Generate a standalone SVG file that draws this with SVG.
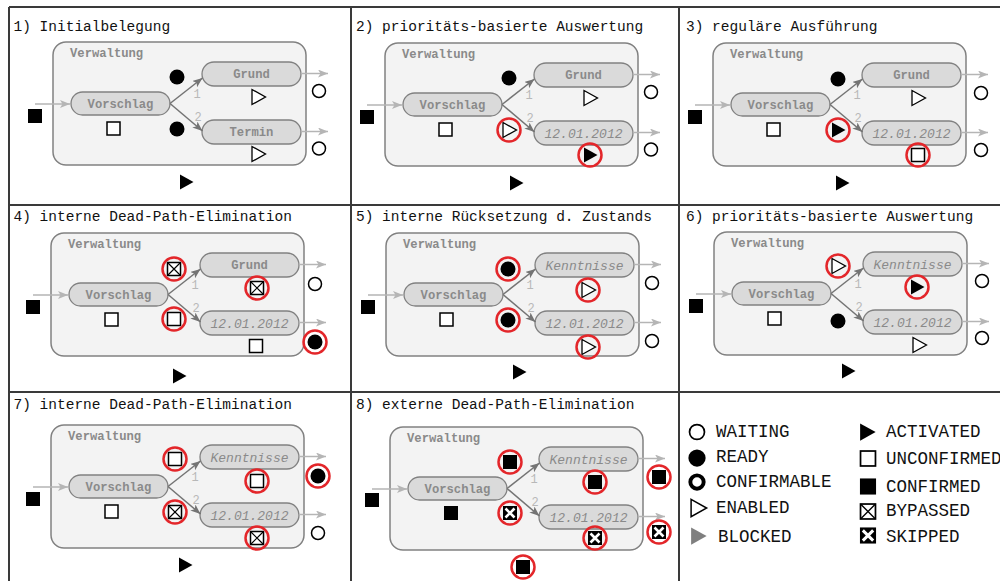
<svg xmlns="http://www.w3.org/2000/svg" width="1000" height="581" viewBox="0 0 1000 581">
  <style>
    .grid { stroke: #3a3a3a; stroke-width: 2; fill: none; }
    .title { font-family: "Liberation Mono", "DejaVu Sans Mono", monospace; font-size: 14.5px; fill: #111; }
    .legend { font-family: "Liberation Mono", "DejaVu Sans Mono", monospace; font-size: 17.5px; fill: #111; }
    .pool { fill: #f3f3f3; stroke: #818181; stroke-width: 1.5; }
    .pool-label { font-family: "Liberation Mono", monospace; font-weight: bold; font-size: 12.2px; fill: #8a8a8a; }
    .task { fill: #dadada; stroke: #818181; stroke-width: 1.3; }
    .task-label { font-family: "Liberation Mono", monospace; font-weight: bold; font-size: 12.2px; fill: #8a8a8a; text-anchor: middle; }
    .task-label-i { font-family: "Liberation Mono", monospace; font-style: italic; font-size: 13px; fill: #8a8a8a; text-anchor: middle; }
    .edge { stroke: #747474; stroke-width: 1.5; fill: none; marker-end: url(#arrow-dark); }
    .flow { stroke: #b5b5b5; stroke-width: 1.5; fill: none; marker-end: url(#arrow-light); }
    .num { font-family: "Liberation Mono", monospace; font-size: 12px; fill: #b8b8b8; text-anchor: middle; }
    .hl { fill: none; stroke: #e3262a; stroke-width: 2.5; }
  </style>
  <defs>
    <marker id="arrow-dark" markerUnits="userSpaceOnUse" markerWidth="11" markerHeight="9" refX="10" refY="4" orient="auto">
      <path d="M0,0 L10,4 L0,8 L2.5,4 Z" fill="#747474"/>
    </marker>
    <marker id="arrow-light" markerUnits="userSpaceOnUse" markerWidth="11" markerHeight="9" refX="10" refY="4" orient="auto">
      <path d="M0,0 L10,4 L0,8 L2.5,4 Z" fill="#b5b5b5"/>
    </marker>
    <!-- state symbols, centred on 0,0 -->
    <circle id="s-waiting" r="6.5" fill="#fff" stroke="#000" stroke-width="1.5"/>
    <circle id="s-ready" r="7.5" fill="#000"/>
    <circle id="s-confirmable" r="5.8" fill="#fff" stroke="#000" stroke-width="3.4"/>
    <polygon id="s-enabled" points="-6,-7.5 7.5,0 -6,7.5" fill="#fff" stroke="#000" stroke-width="1.3"/>
    <polygon id="s-blocked" points="-6,-7.5 7.5,0 -6,7.5" fill="#7f7f7f"/>
    <polygon id="s-activated" points="-6,-7.5 7.5,0 -6,7.5" fill="#000"/>
    <rect id="s-unconfirmed" x="-6.5" y="-6.5" width="13" height="13" fill="#fff" stroke="#000" stroke-width="1.5"/>
    <rect id="s-confirmed" x="-7" y="-7" width="14" height="14" fill="#000"/>
    <g id="s-bypassed">
      <rect x="-6.5" y="-6.5" width="13" height="13" fill="#fff" stroke="#000" stroke-width="1.5"/>
      <path d="M-6.5,-6.5 L6.5,6.5 M6.5,-6.5 L-6.5,6.5" stroke="#000" stroke-width="1.2"/>
    </g>
    <g id="s-skipped">
      <rect x="-7" y="-7" width="14" height="14" fill="#000"/>
      <path d="M-4.5,-4.5 L4.5,4.5 M4.5,-4.5 L-4.5,4.5" stroke="#fff" stroke-width="2.6"/>
    </g>
    <circle id="hl" r="11.5" class="hl"/>
  </defs>

  <rect width="1000" height="581" fill="#fff"/>

  <!-- frame -->
  <g id="frame">
    <path class="grid" d="M9,7 H1000 M9,205 H1000 M9,392 H1000 M9,7 V581 M351,7 V581 M679,7 V581"/>
  </g>

  <!-- panel headings -->
  <g id="titles">
    <text class="title" x="13.5" y="31">1) Initialbelegung</text>
    <text class="title" x="356" y="31">2) prioritäts-basierte Auswertung</text>
    <text class="title" x="686" y="31">3) reguläre Ausführung</text>
    <text class="title" x="13.5" y="221">4) interne Dead-Path-Elimination</text>
    <text class="title" x="356" y="221">5) interne Rücksetzung d. Zustands</text>
    <text class="title" x="686" y="221">6) prioritäts-basierte Auswertung</text>
    <text class="title" x="13.5" y="409">7) interne Dead-Path-Elimination</text>
    <text class="title" x="356" y="409">8) externe Dead-Path-Elimination</text>
  </g>

  <!-- 1) -->
  <g id="panel-1" transform="translate(71,92)">
    <g id="p1-verwaltung"><rect class="pool" x="-18" y="-50" width="253" height="123" rx="13"/><text class="pool-label" x="-1" y="-35">Verwaltung</text></g>
    <g id="p1-vorschlag"><rect class="task" x="0" y="0" width="99" height="23" rx="11.5"/><text class="task-label" x="49.5" y="16">Vorschlag</text></g>
    <g id="p1-grund"><rect class="task" x="131" y="-30" width="99" height="24" rx="12"/><text class="task-label" x="180.5" y="-13.8">Grund</text></g>
    <g id="p1-termin"><rect class="task" x="131" y="28" width="99" height="24" rx="12"/><text class="task-label" x="180.5" y="44.2">Termin</text></g>
    <g id="p1-connectors">
      <line class="flow" x1="-36" y1="12" x2="-1" y2="12"/>
      <line class="edge" x1="99" y1="11.5" x2="131.5" y2="-14"/>
      <line class="edge" x1="99" y1="11.5" x2="131.5" y2="39"/>
      <line class="flow" x1="230" y1="-18.5" x2="257" y2="-18.5"/>
      <line class="flow" x1="230" y1="39.5" x2="257" y2="39.5"/>
      <text class="num" x="126" y="6">1</text><text class="num" x="127" y="29">2</text>
    </g>
    <g id="p1-states">
      <use href="#s-confirmed" x="-36" y="24"/><use href="#s-unconfirmed" x="42.5" y="36.5"/>
      <use href="#s-ready" x="106" y="-15"/><use href="#s-ready" x="106" y="37"/>
      <use href="#s-enabled" x="187" y="5"/><use href="#s-enabled" x="187" y="62"/>
      <use href="#s-waiting" x="248" y="-1"/><use href="#s-waiting" x="248" y="56.5"/>
      <use href="#s-activated" x="115" y="90"/>
    </g>
  </g>

  <!-- 2) -->
  <g id="panel-2" transform="translate(403,93)">
    <g id="p2-verwaltung"><rect class="pool" x="-18" y="-50" width="253" height="123" rx="13"/><text class="pool-label" x="-1" y="-35">Verwaltung</text></g>
    <g id="p2-vorschlag"><rect class="task" x="0" y="0" width="99" height="23" rx="11.5"/><text class="task-label" x="49.5" y="16">Vorschlag</text></g>
    <g id="p2-grund"><rect class="task" x="131" y="-30" width="99" height="24" rx="12"/><text class="task-label" x="180.5" y="-13.8">Grund</text></g>
    <g id="p2-datum"><rect class="task" x="131" y="28" width="99" height="24" rx="12"/><text class="task-label-i" x="180.5" y="44.5">12.01.2012</text></g>
    <g id="p2-connectors">
      <line class="flow" x1="-36" y1="12" x2="-1" y2="12"/>
      <line class="edge" x1="99" y1="11.5" x2="131.5" y2="-14"/>
      <line class="edge" x1="99" y1="11.5" x2="131.5" y2="39"/>
      <line class="flow" x1="230" y1="-18.5" x2="257" y2="-18.5"/>
      <line class="flow" x1="230" y1="39.5" x2="257" y2="39.5"/>
      <text class="num" x="126" y="6">1</text><text class="num" x="127" y="29">2</text>
    </g>
    <g id="p2-states">
      <use href="#s-confirmed" x="-36" y="24"/><use href="#s-unconfirmed" x="42.5" y="36.5"/>
      <use href="#s-ready" x="106" y="-15"/>
      <use href="#s-enabled" x="106" y="37"/><use href="#hl" x="106" y="37"/>
      <use href="#s-enabled" x="187" y="5"/>
      <use href="#s-activated" x="187" y="62"/><use href="#hl" x="187" y="62"/>
      <use href="#s-waiting" x="248" y="-1"/><use href="#s-waiting" x="248" y="56.5"/>
      <use href="#s-activated" x="113" y="90"/>
    </g>
  </g>

  <!-- 3) -->
  <g id="panel-3" transform="translate(731,93)">
    <g id="p3-verwaltung"><rect class="pool" x="-18" y="-50" width="253" height="123" rx="13"/><text class="pool-label" x="-1" y="-35">Verwaltung</text></g>
    <g id="p3-vorschlag"><rect class="task" x="0" y="0" width="99" height="23" rx="11.5"/><text class="task-label" x="49.5" y="16">Vorschlag</text></g>
    <g id="p3-grund"><rect class="task" x="131" y="-30" width="99" height="24" rx="12"/><text class="task-label" x="180.5" y="-13.8">Grund</text></g>
    <g id="p3-datum"><rect class="task" x="131" y="28" width="99" height="24" rx="12"/><text class="task-label-i" x="180.5" y="44.5">12.01.2012</text></g>
    <g id="p3-connectors">
      <line class="flow" x1="-36" y1="12" x2="-1" y2="12"/>
      <line class="edge" x1="99" y1="11.5" x2="131.5" y2="-14"/>
      <line class="edge" x1="99" y1="11.5" x2="131.5" y2="39"/>
      <line class="flow" x1="230" y1="-18.5" x2="257" y2="-18.5"/>
      <line class="flow" x1="230" y1="39.5" x2="257" y2="39.5"/>
      <text class="num" x="126" y="6">1</text><text class="num" x="127" y="29">2</text>
    </g>
    <g id="p3-states">
      <use href="#s-confirmed" x="-36" y="24"/><use href="#s-unconfirmed" x="42.5" y="36.5"/>
      <use href="#s-ready" x="107" y="-14"/>
      <use href="#s-activated" x="107" y="37"/><use href="#hl" x="107" y="37"/>
      <use href="#s-enabled" x="187" y="5"/>
      <use href="#s-unconfirmed" x="187" y="62"/><use href="#hl" x="187" y="62"/>
      <use href="#s-waiting" x="250" y="0"/><use href="#s-waiting" x="250" y="57"/>
      <use href="#s-activated" x="111" y="90"/>
    </g>
  </g>

  <!-- 4) -->
  <g id="panel-4" transform="translate(69,283)">
    <g id="p4-verwaltung"><rect class="pool" x="-18" y="-50" width="253" height="123" rx="13"/><text class="pool-label" x="-1" y="-35">Verwaltung</text></g>
    <g id="p4-vorschlag"><rect class="task" x="0" y="0" width="99" height="23" rx="11.5"/><text class="task-label" x="49.5" y="16">Vorschlag</text></g>
    <g id="p4-grund"><rect class="task" x="131" y="-30" width="99" height="24" rx="12"/><text class="task-label" x="180.5" y="-13.8">Grund</text></g>
    <g id="p4-datum"><rect class="task" x="131" y="28" width="99" height="24" rx="12"/><text class="task-label-i" x="180.5" y="44.5">12.01.2012</text></g>
    <g id="p4-connectors">
      <line class="flow" x1="-36" y1="12" x2="-1" y2="12"/>
      <line class="edge" x1="99" y1="11.5" x2="131.5" y2="-14"/>
      <line class="edge" x1="99" y1="11.5" x2="131.5" y2="39"/>
      <line class="flow" x1="230" y1="-18.5" x2="257" y2="-18.5"/>
      <line class="flow" x1="230" y1="39.5" x2="257" y2="39.5"/>
      <text class="num" x="126" y="6">1</text><text class="num" x="127" y="29">2</text>
    </g>
    <g id="p4-states">
      <use href="#s-confirmed" x="-36" y="24"/><use href="#s-unconfirmed" x="42.5" y="36.5"/>
      <use href="#s-bypassed" x="105" y="-14"/><use href="#hl" x="105" y="-14"/>
      <use href="#s-unconfirmed" x="105" y="36"/><use href="#hl" x="105" y="36"/>
      <use href="#s-bypassed" x="188" y="5"/><use href="#hl" x="188" y="5"/>
      <use href="#s-unconfirmed" x="187" y="63"/>
      <use href="#s-waiting" x="246" y="1"/>
      <use href="#s-ready" x="246" y="59"/><use href="#hl" x="246" y="59"/>
      <use href="#s-activated" x="110" y="93"/>
    </g>
  </g>

  <!-- 5) -->
  <g id="panel-5" transform="translate(404,283)">
    <g id="p5-verwaltung"><rect class="pool" x="-18" y="-50" width="253" height="123" rx="13"/><text class="pool-label" x="-1" y="-35">Verwaltung</text></g>
    <g id="p5-vorschlag"><rect class="task" x="0" y="0" width="99" height="23" rx="11.5"/><text class="task-label" x="49.5" y="16">Vorschlag</text></g>
    <g id="p5-kenntnisse"><rect class="task" x="131" y="-30" width="99" height="24" rx="12"/><text class="task-label-i" x="180.5" y="-13.5">Kenntnisse</text></g>
    <g id="p5-datum"><rect class="task" x="131" y="28" width="99" height="24" rx="12"/><text class="task-label-i" x="180.5" y="44.5">12.01.2012</text></g>
    <g id="p5-connectors">
      <line class="flow" x1="-36" y1="12" x2="-1" y2="12"/>
      <line class="edge" x1="99" y1="11.5" x2="131.5" y2="-14"/>
      <line class="edge" x1="99" y1="11.5" x2="131.5" y2="39"/>
      <line class="flow" x1="230" y1="-18.5" x2="257" y2="-18.5"/>
      <line class="flow" x1="230" y1="39.5" x2="257" y2="39.5"/>
      <text class="num" x="126" y="6">1</text><text class="num" x="127" y="29">2</text>
    </g>
    <g id="p5-states">
      <use href="#s-confirmed" x="-36" y="24"/><use href="#s-unconfirmed" x="42.5" y="36.5"/>
      <use href="#s-ready" x="104" y="-14"/><use href="#hl" x="104" y="-14"/>
      <use href="#s-ready" x="104" y="37"/><use href="#hl" x="104" y="37"/>
      <use href="#s-enabled" x="184" y="7"/><use href="#hl" x="184" y="7"/>
      <use href="#s-enabled" x="184" y="64"/><use href="#hl" x="184" y="64"/>
      <use href="#s-waiting" x="248" y="0"/><use href="#s-waiting" x="248" y="58"/>
      <use href="#s-activated" x="115" y="89"/>
    </g>
  </g>

  <!-- 6) -->
  <g id="panel-6" transform="translate(732,282)">
    <g id="p6-verwaltung"><rect class="pool" x="-18" y="-50" width="253" height="123" rx="13"/><text class="pool-label" x="-1" y="-35">Verwaltung</text></g>
    <g id="p6-vorschlag"><rect class="task" x="0" y="0" width="99" height="23" rx="11.5"/><text class="task-label" x="49.5" y="16">Vorschlag</text></g>
    <g id="p6-kenntnisse"><rect class="task" x="131" y="-30" width="99" height="24" rx="12"/><text class="task-label-i" x="180.5" y="-13.5">Kenntnisse</text></g>
    <g id="p6-datum"><rect class="task" x="131" y="28" width="99" height="24" rx="12"/><text class="task-label-i" x="180.5" y="44.5">12.01.2012</text></g>
    <g id="p6-connectors">
      <line class="flow" x1="-36" y1="12" x2="-1" y2="12"/>
      <line class="edge" x1="99" y1="11.5" x2="131.5" y2="-14"/>
      <line class="edge" x1="99" y1="11.5" x2="131.5" y2="39"/>
      <line class="flow" x1="230" y1="-18.5" x2="257" y2="-18.5"/>
      <line class="flow" x1="230" y1="39.5" x2="257" y2="39.5"/>
      <text class="num" x="126" y="6">1</text><text class="num" x="127" y="29">2</text>
    </g>
    <g id="p6-states">
      <use href="#s-confirmed" x="-36" y="24"/><use href="#s-unconfirmed" x="42.5" y="36.5"/>
      <use href="#s-enabled" x="106" y="-16"/><use href="#hl" x="106" y="-16"/>
      <use href="#s-ready" x="106" y="39"/>
      <use href="#s-activated" x="185" y="5"/><use href="#hl" x="185" y="5"/>
      <use href="#s-enabled" x="187" y="63"/>
      <use href="#s-waiting" x="250" y="-1"/><use href="#s-waiting" x="250" y="56"/>
      <use href="#s-activated" x="116" y="89"/>
    </g>
  </g>

  <!-- 7) -->
  <g id="panel-7" transform="translate(69,475)">
    <g id="p7-verwaltung"><rect class="pool" x="-18" y="-50" width="253" height="123" rx="13"/><text class="pool-label" x="-1" y="-35">Verwaltung</text></g>
    <g id="p7-vorschlag"><rect class="task" x="0" y="0" width="99" height="23" rx="11.5"/><text class="task-label" x="49.5" y="16">Vorschlag</text></g>
    <g id="p7-kenntnisse"><rect class="task" x="131" y="-30" width="99" height="24" rx="12"/><text class="task-label-i" x="180.5" y="-13.5">Kenntnisse</text></g>
    <g id="p7-datum"><rect class="task" x="131" y="28" width="99" height="24" rx="12"/><text class="task-label-i" x="180.5" y="44.5">12.01.2012</text></g>
    <g id="p7-connectors">
      <line class="flow" x1="-36" y1="12" x2="-1" y2="12"/>
      <line class="edge" x1="99" y1="11.5" x2="131.5" y2="-14"/>
      <line class="edge" x1="99" y1="11.5" x2="131.5" y2="39"/>
      <line class="flow" x1="230" y1="-18.5" x2="257" y2="-18.5"/>
      <line class="flow" x1="230" y1="39.5" x2="257" y2="39.5"/>
      <text class="num" x="126" y="6">1</text><text class="num" x="127" y="29">2</text>
    </g>
    <g id="p7-states">
      <use href="#s-confirmed" x="-36" y="24"/><use href="#s-unconfirmed" x="42.5" y="36.5"/>
      <use href="#s-unconfirmed" x="106" y="-16"/><use href="#hl" x="106" y="-16"/>
      <use href="#s-bypassed" x="106" y="37"/><use href="#hl" x="106" y="37"/>
      <use href="#s-unconfirmed" x="188" y="6"/><use href="#hl" x="188" y="6"/>
      <use href="#s-bypassed" x="188" y="63"/><use href="#hl" x="188" y="63"/>
      <use href="#s-ready" x="249" y="1"/><use href="#hl" x="249" y="1"/>
      <use href="#s-waiting" x="249" y="58"/>
      <use href="#s-activated" x="116" y="90"/>
    </g>
  </g>

  <!-- 8) -->
  <g id="panel-8" transform="translate(408,477)">
    <g id="p8-verwaltung"><rect class="pool" x="-18" y="-50" width="253" height="123" rx="13"/><text class="pool-label" x="-1" y="-35">Verwaltung</text></g>
    <g id="p8-vorschlag"><rect class="task" x="0" y="0" width="99" height="23" rx="11.5"/><text class="task-label" x="49.5" y="16">Vorschlag</text></g>
    <g id="p8-kenntnisse"><rect class="task" x="131" y="-30" width="99" height="24" rx="12"/><text class="task-label-i" x="180.5" y="-13.5">Kenntnisse</text></g>
    <g id="p8-datum"><rect class="task" x="131" y="28" width="99" height="24" rx="12"/><text class="task-label-i" x="180.5" y="44.5">12.01.2012</text></g>
    <g id="p8-connectors">
      <line class="flow" x1="-36" y1="12" x2="-1" y2="12"/>
      <line class="edge" x1="99" y1="11.5" x2="131.5" y2="-14"/>
      <line class="edge" x1="99" y1="11.5" x2="131.5" y2="39"/>
      <line class="flow" x1="230" y1="-18.5" x2="257" y2="-18.5"/>
      <line class="flow" x1="230" y1="39.5" x2="257" y2="39.5"/>
      <text class="num" x="126" y="6">1</text><text class="num" x="127" y="29">2</text>
    </g>
    <g id="p8-states">
      <use href="#s-confirmed" x="-36" y="23"/><use href="#s-confirmed" x="43" y="36"/>
      <use href="#s-confirmed" x="102" y="-15"/><use href="#hl" x="102" y="-15"/>
      <use href="#s-skipped" x="102" y="36"/><use href="#hl" x="102" y="36"/>
      <use href="#s-confirmed" x="187" y="5"/><use href="#hl" x="187" y="5"/>
      <use href="#s-skipped" x="187" y="61"/><use href="#hl" x="187" y="61"/>
      <use href="#s-confirmed" x="251" y="0"/><use href="#hl" x="251" y="0"/>
      <use href="#s-skipped" x="251" y="55"/><use href="#hl" x="251" y="55"/>
      <use href="#s-confirmed" x="115" y="90"/><use href="#hl" x="115" y="90"/>
    </g>
  </g>

  <!-- state legend -->
  <g id="legend">
    <use href="#s-waiting" transform="translate(697,432) scale(1.15)"/>
    <text class="legend" x="716" y="437">WAITING</text>
    <use href="#s-ready" transform="translate(697,458) scale(1.15)"/>
    <text class="legend" x="716" y="462">READY</text>
    <use href="#s-confirmable" transform="translate(697,482) scale(1.15)"/>
    <text class="legend" x="716" y="487">CONFIRMABLE</text>
    <use href="#s-enabled" transform="translate(698,508) scale(1.15)"/>
    <text class="legend" x="716" y="513">ENABLED</text>
    <use href="#s-blocked" transform="translate(698,536) scale(1.15)"/>
    <text class="legend" x="718" y="542">BLOCKED</text>

    <use href="#s-activated" transform="translate(867,432) scale(1.15)"/>
    <text class="legend" x="886" y="437">ACTIVATED</text>
    <use href="#s-unconfirmed" transform="translate(868,458.5) scale(1.15)"/>
    <text class="legend" x="886" y="464">UNCONFIRMED</text>
    <use href="#s-confirmed" transform="translate(868,486.5) scale(1.15)"/>
    <text class="legend" x="886" y="492">CONFIRMED</text>
    <use href="#s-bypassed" transform="translate(868,511.5) scale(1.15)"/>
    <text class="legend" x="886" y="516">BYPASSED</text>
    <use href="#s-skipped" transform="translate(868,535.5) scale(1.15)"/>
    <text class="legend" x="886" y="542">SKIPPED</text>
  </g>
</svg>
